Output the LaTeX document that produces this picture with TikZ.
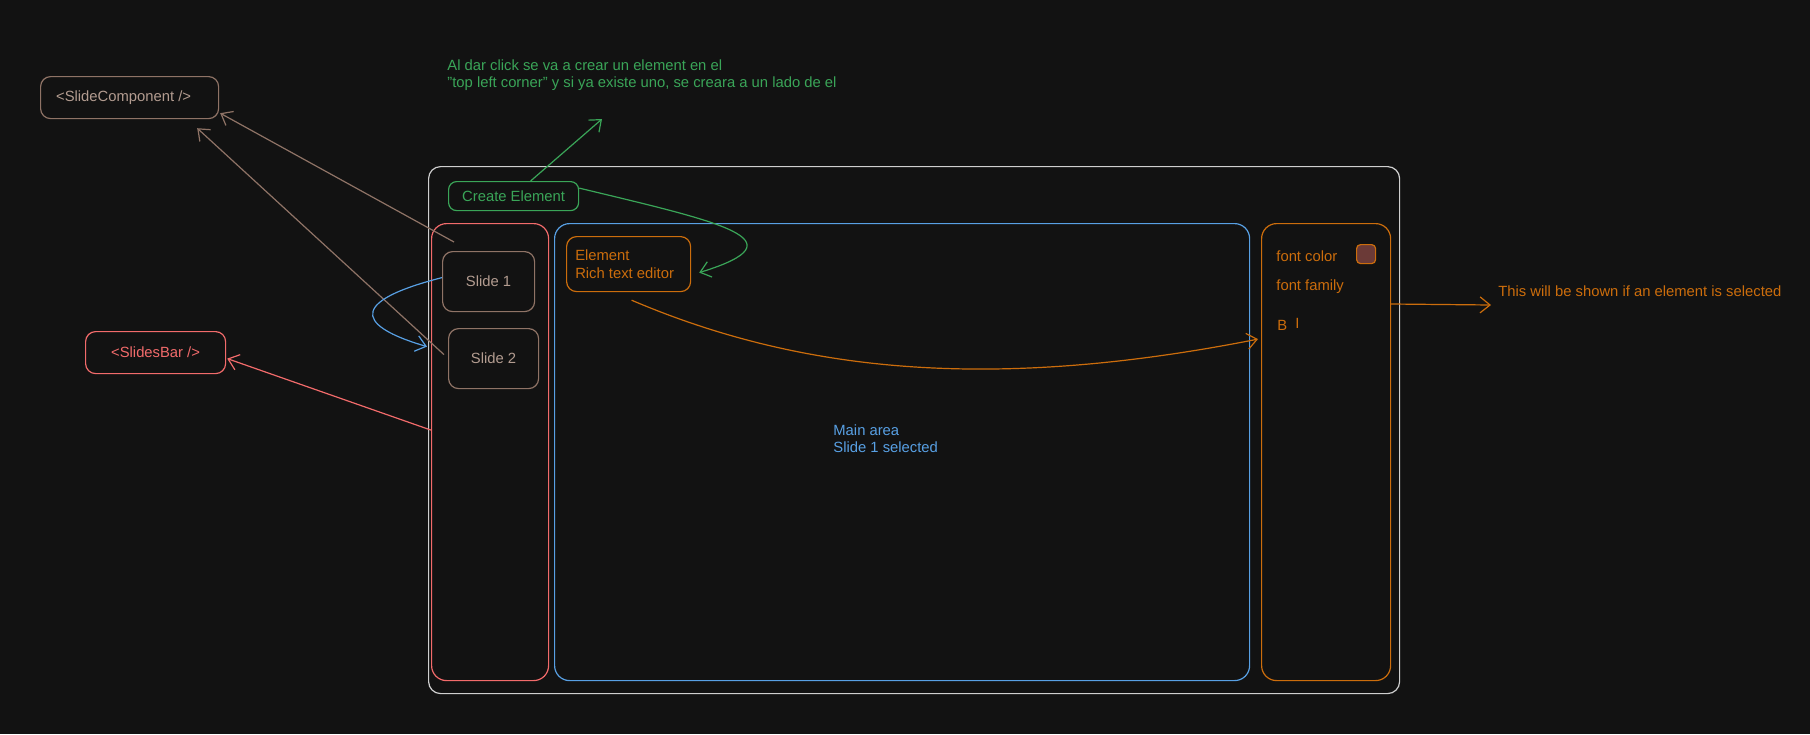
\documentclass[tikz,border=0pt]{standalone}
\usepackage{fontspec}
\setmainfont{Liberation Sans}
\usetikzlibrary{arrows.meta}
\definecolor{bg}{HTML}{121212}
\definecolor{outerc}{HTML}{CFCFCF}
\definecolor{gr}{HTML}{3AA558}
\definecolor{rd}{HTML}{F26B6B}
\definecolor{bl}{HTML}{58A0E4}
\definecolor{orc}{HTML}{CC6D0C}
\definecolor{brn}{HTML}{8F7366}
\definecolor{brt}{HTML}{B39C90}
\definecolor{sw}{HTML}{6B3A37}
\tikzset{
  box/.style={draw, line width=0.6pt, rounded corners=#1, anchor=north west, inner sep=0pt},
  box/.default=4pt,
  txt/.style={font=\fontsize{7.4}{8.7}\selectfont, inner sep=0pt},
  con/.style={line width=0.6pt, -{Straight Barb[length=5pt,width=8pt]}},
}
\begin{document}
\begin{tikzpicture}[x=0.5pt,y=-0.5pt]
\fill[bg] (0,0) rectangle (1810,734);
\useasboundingbox (0,0) rectangle (1810,734);
% containers
\node[box=6pt, outerc, minimum width=485.5pt, minimum height=263.5pt] (outer) at (428,166) {};
\node[box=7.5pt, rd, minimum width=58.5pt, minimum height=228.5pt] (bar) at (431,223) {};
\node[box=7.5pt, bl, minimum width=347.5pt, minimum height=228.5pt] (main) at (554,223) {};
\node[box=7.5pt, orc, minimum width=64.5pt, minimum height=228.5pt] (panel) at (1261,223) {};
% boxes
\node[box, gr, minimum width=65pt, minimum height=14.5pt, text=gr, txt] (create) at (448,181) {Create Element};
\node[box=5pt, brn, minimum width=46pt, minimum height=30pt, text=brt, txt] (slide1) at (442,251) {Slide 1};
\node[box=5pt, brn, minimum width=45pt, minimum height=30pt, text=brt, txt] (slide2) at (448,328) {Slide 2};
\node[box=5pt, orc, minimum width=62pt, minimum height=27.5pt, text=orc, txt, align=left] (element) at (566,236) {Element\\Rich text editor\hspace*{4pt}};
\node[box=5pt, brn, minimum width=89pt, minimum height=21pt, text=brt, txt] (scomp) at (40,76) {\hspace*{-6pt}<SlideComponent />};
\node[box=5pt, rd, minimum width=70pt, minimum height=21pt, text=rd, txt] (sbl) at (85,331) {<SlidesBar />};
\node[box=2pt, orc, fill=sw, minimum width=9.5pt, minimum height=9.5pt] (swatch) at (1356,244) {};
% texts
\node[txt, text=gr, align=left, anchor=west] (note) at (447,75) {Al dar click se va a crear un element en el\\\char"22 top left corner\char"22{} y si ya existe uno, se creara a un lado de el};
\node[txt, text=bl, align=left, anchor=west] (mainlbl) at (833,438.5) {Main area\\Slide 1 selected};
\node[txt, text=orc, anchor=west] (fcolor) at (1276,256) {font color};
\node[txt, text=orc, anchor=west] (ffamily) at (1276,287) {font family};
\node[txt, text=orc, anchor=west] (bold) at (1277,325) {B};
\node[txt, text=orc, anchor=west] (ital) at (1295,323) {I};
\node[txt, text=orc, anchor=west] (shown) at (1498,291) {This will be shown if an element is selected};
% connectors
\draw[con, gr] ([xshift=8.5pt]create.north) -- ([xshift=77.5pt,yshift=-22pt]note.west);
\draw[con, gr] ([yshift=4pt]create.east) .. controls (720,222) and (805,240) .. ([xshift=4pt,yshift=-4.25pt]element.east);
\draw[con, orc] ([xshift=1.5pt,yshift=-4pt]element.south) .. controls (800,372) and (990,392) .. ([xshift=-1.5pt,yshift=56.5pt]panel.west);
\draw[con, orc] ([yshift=-40.5pt]panel.north east) -- ([xshift=-3.5pt,yshift=-7pt]shown.west);
\draw[con, brn] ([xshift=6pt,yshift=4.5pt]slide1.north west) -- ([xshift=0.5pt,yshift=3pt]scomp.south east);
\draw[con, brn] ([xshift=-2pt,yshift=2pt]slide2.west) -- ([xshift=-11pt,yshift=-4.5pt]scomp.south east);
\draw[con, bl] ([yshift=2pt]slide1.west) .. controls (335,305) and (370,330) .. ([xshift=-10.5pt,yshift=6pt]slide2.west);
\draw[con, rd] ([yshift=11pt]bar.west) -- ([xshift=0.5pt,yshift=-3pt]sbl.east);
\end{tikzpicture}
\end{document}
